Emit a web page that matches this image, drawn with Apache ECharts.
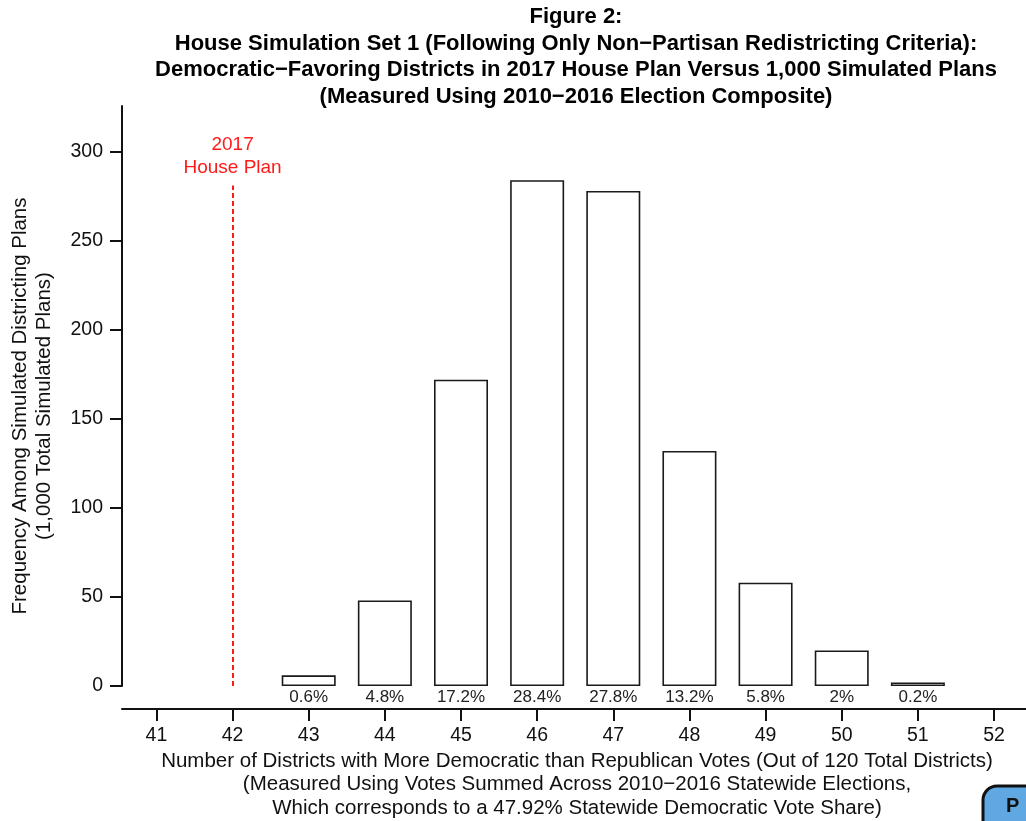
<!DOCTYPE html>
<html>
<head>
<meta charset="utf-8">
<script src="https://cdn.jsdelivr.net/npm/echarts@6/dist/echarts.min.js"></script>
<style>html,body{margin:0;padding:0;background:#fff;}#c{width:1026px;height:821px;}</style>
</head>
<body>
<div id="c"></div>
<script>
const districts = [43, 44, 45, 46, 47, 48, 49, 50, 51];
const frequency = [6, 48, 172, 284, 278, 132, 58, 20, 2];
const pctLabels = ['0.6%', '4.8%', '17.2%', '28.4%', '27.8%', '13.2%', '5.8%', '2%', '0.2%'];
const xTicks = [41, 42, 43, 44, 45, 46, 47, 48, 49, 50, 51, 52];
const yTicks = [0, 50, 100, 150, 200, 250, 300];
const planValue = 42;
const planLineTop = 281;
const titleLines = [
  'Figure 2:',
  'House Simulation Set 1 (Following Only Non\u2212Partisan Redistricting Criteria):',
  'Democratic\u2212Favoring Districts in 2017 House Plan Versus 1,000 Simulated Plans',
  '(Measured Using 2010\u22122016 Election Composite)'
];
const xTitleLines = [
  'Number of Districts with More Democratic than Republican Votes (Out of 120 Total Districts)',
  '(Measured Using Votes Summed Across 2010\u22122016 Statewide Elections,',
  'Which corresponds to a 47.92% Statewide Democratic Vote Share)'
];
const yTitleLines = [
  'Frequency Among Simulated Districting Plans',
  '(1,000 Total Simulated Plans)'
];

const FONT = '"Liberation Sans", Arial, Helvetica, sans-serif';
const chart = echarts.init(document.getElementById('c'));

const graphics = [];
titleLines.forEach((t, i) => {
  graphics.push({type: 'text', x: 576, y: 17 + i * 26.7,
    style: {text: t, fontFamily: FONT, fontWeight: 'bold', fontSize: 22, fill: '#000', textAlign: 'center', verticalAlign: 'middle'}});
});
xTitleLines.forEach((t, i) => {
  graphics.push({type: 'text', x: 577, y: 761 + i * 23.5,
    style: {text: t, fontFamily: FONT, fontSize: 20.5, fill: '#111', textAlign: 'center', verticalAlign: 'middle'}});
});
yTitleLines.forEach((t, i) => {
  graphics.push({type: 'text', x: 20 + i * 24, y: 406, rotation: Math.PI / 2,
    style: {text: t, fontFamily: FONT, fontSize: 20.5, fill: '#111', textAlign: 'center', verticalAlign: 'middle'}});
});
graphics.push({type: 'rect', shape: {x: 983, y: 786, width: 80, height: 60, r: 14},
  style: {fill: '#5fa8e2', stroke: '#111', lineWidth: 3}});
graphics.push({type: 'text', x: 1006, y: 806,
  style: {text: 'P', fontFamily: FONT, fontWeight: 'bold', fontSize: 20, fill: '#111', textAlign: 'left', verticalAlign: 'middle'}});

chart.setOption({
  animation: false,
  backgroundColor: '#fff',
  grid: {left: 122, right: 0, top: 106, bottom: 135, containLabel: false},
  xAxis: {
    type: 'value', min: 40.548, max: 52.42, offset: 23,
    axisLine: {show: true, onZero: false, lineStyle: {color: '#111', width: 2}},
    axisTick: {show: true, length: 12, lineStyle: {color: '#111', width: 2}, customValues: xTicks},
    axisLabel: {show: true, margin: 17, fontSize: 19.5, color: '#111', fontFamily: FONT, customValues: xTicks, formatter: v => String(v)},
    splitLine: {show: false}
  },
  yAxis: {
    type: 'value', min: 0, max: 325.7,
    axisLine: {show: true, lineStyle: {color: '#111', width: 2}},
    axisTick: {show: true, length: 12, lineStyle: {color: '#111', width: 2}, customValues: yTicks},
    axisLabel: {show: true, margin: 19, fontSize: 19.5, color: '#111', fontFamily: FONT, customValues: yTicks},
    splitLine: {show: false}
  },
  graphic: graphics,
  series: [{
    type: 'bar',
    data: districts.map((d, i) => [d, frequency[i]]),
    barWidth: 54,
    itemStyle: {color: '#fff', borderColor: '#1a1a1a', borderWidth: 1.6},
    label: {show: true, position: 'bottom', distance: 3, fontSize: 17, color: '#222', fontFamily: FONT,
      formatter: p => pctLabels[p.dataIndex]},
    markLine: {
      silent: true, symbol: ['none', 'none'],
      lineStyle: {color: '#ff1a1a', type: [5, 3], width: 2},
      label: {show: true, position: 'end', formatter: '2017\nHouse Plan', color: '#ff1a1a', fontSize: 19, lineHeight: 23, fontFamily: FONT, distance: 6},
      data: [[{coord: [planValue, 0]}, {coord: [planValue, planLineTop]}]]
    }
  }]
});
</script>
</body>
</html>
